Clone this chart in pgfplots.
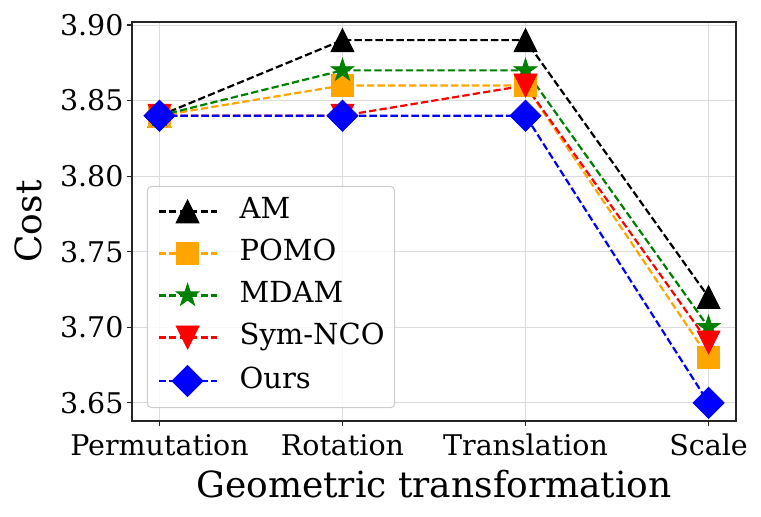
\documentclass[border=0pt]{standalone}
\usepackage{fontspec}
\setmainfont{DejaVu Serif}
\usepackage{pgfplots}
\pgfplotsset{compat=1.18}
\definecolor{morange}{RGB}{255,165,0}
\definecolor{mgreen}{RGB}{0,128,0}
\definecolor{mred}{RGB}{255,0,0}
\definecolor{mblue}{RGB}{0,0,255}
\definecolor{gridc}{RGB}{220,220,220}
\definecolor{legc}{RGB}{204,204,204}
\definecolor{spine}{RGB}{38,38,38}
\pgfdeclareplotmark{fstar}{%
  \pgfpathmoveto{\pgfpointpolar{90}{\pgfplotmarksize}}%
  \pgfpathlineto{\pgfpointpolar{126}{0.382\pgfplotmarksize}}%
  \pgfpathlineto{\pgfpointpolar{162}{\pgfplotmarksize}}%
  \pgfpathlineto{\pgfpointpolar{198}{0.382\pgfplotmarksize}}%
  \pgfpathlineto{\pgfpointpolar{234}{\pgfplotmarksize}}%
  \pgfpathlineto{\pgfpointpolar{270}{0.382\pgfplotmarksize}}%
  \pgfpathlineto{\pgfpointpolar{306}{\pgfplotmarksize}}%
  \pgfpathlineto{\pgfpointpolar{342}{0.382\pgfplotmarksize}}%
  \pgfpathlineto{\pgfpointpolar{18}{\pgfplotmarksize}}%
  \pgfpathlineto{\pgfpointpolar{54}{0.382\pgfplotmarksize}}%
  \pgfpathclose
  \pgfusepathqfillstroke}
\pgfdeclareplotmark{mtri}{%
  \pgfpathmoveto{\pgfqpoint{0pt}{\pgfplotmarksize}}%
  \pgfpathlineto{\pgfqpoint{-\pgfplotmarksize}{-\pgfplotmarksize}}%
  \pgfpathlineto{\pgfqpoint{\pgfplotmarksize}{-\pgfplotmarksize}}%
  \pgfpathclose
  \pgfusepathqfillstroke}
\pgfdeclareplotmark{mtriinv}{%
  \pgfpathmoveto{\pgfqpoint{0pt}{-\pgfplotmarksize}}%
  \pgfpathlineto{\pgfqpoint{-\pgfplotmarksize}{\pgfplotmarksize}}%
  \pgfpathlineto{\pgfqpoint{\pgfplotmarksize}{\pgfplotmarksize}}%
  \pgfpathclose
  \pgfusepathqfillstroke}
\begin{document}
\begin{tikzpicture}
\useasboundingbox (0,0) rectangle (761pt,517pt);
\begin{axis}[
  at={(132pt,96pt)}, anchor=south west,
  width=604pt, height=399pt, scale only axis,
  xmin=-0.15, xmax=3.15, ymin=3.638, ymax=3.902,
  xtick={0,1,2,3},
  xticklabels={Permutation,Rotation,Translation,Scale},
  ytick={3.65,3.70,3.75,3.80,3.85,3.90},
  /pgf/number format/assume math mode=true,
  yticklabel style={/pgf/number format/.cd,fixed,fixed zerofill,precision=2},
  ticklabel style={font=\fontsize{28.5}{33}\selectfont},
  xticklabel style={anchor=base, yshift=-29pt},
  tick pos=left, tick align=outside, major tick length=5pt,
  tick style={line width=1.2pt, spine},
  axis line style={line width=1.2pt, spine},
  grid=major,
  major grid style={line width=1pt, gridc},
  xlabel={Geometric transformation},
  ylabel={Cost},
  label style={font=\fontsize{36}{40}\selectfont},
  xlabel style={at={(axis description cs:0.5,-0.1905)}, anchor=base},
  ylabel style={at={(axis description cs:-0.1495,0.5)}, anchor=base},
  every axis plot/.append style={line width=2.2pt, dash pattern=on 7.3pt off 3.2pt},
  legend image code/.code={\draw[mark repeat=2,mark phase=2,fill opacity=1,draw opacity=1,#1] plot coordinates {(0pt,0pt)(29pt,0pt)(58pt,0pt)};},
  legend cell align=left,
  legend style={at={(0.0248,0.589)}, anchor=north west,
    draw=legc, line width=1pt, rounded corners=4pt, fill=white, fill opacity=0.8, text opacity=1,
    font=\fontsize{29}{34}\selectfont,
    inner xsep=10pt, inner ysep=11pt, row sep=14pt, column sep=22pt,
    nodes={inner xsep=0pt, inner ysep=0pt, text height=21pt, text depth=7pt}},
]
\addplot[black, mark=mtri, mark size=11.5pt, mark options={solid, line width=0.8pt}]
  coordinates {(0,3.84) (1,3.89) (2,3.89) (3,3.72)};
\addlegendentry{AM}
\addplot[morange, mark=square*, mark size=11.2pt, mark options={solid, line width=0.8pt}]
  coordinates {(0,3.84) (1,3.86) (2,3.86) (3,3.68)};
\addlegendentry{POMO}
\addplot[mgreen, mark=fstar, mark size=12pt, mark options={solid, line width=0.8pt}]
  coordinates {(0,3.84) (1,3.87) (2,3.87) (3,3.70)};
\addlegendentry{MDAM}
\addplot[mred, mark=mtriinv, mark size=11.5pt, mark options={solid, line width=0.8pt}]
  coordinates {(0,3.84) (1,3.84) (2,3.86) (3,3.69)};
\addlegendentry{Sym-NCO}
\addplot[mblue, mark=square*, mark size=11pt, mark options={solid, rotate=45, line width=0.8pt}]
  coordinates {(0,3.84) (1,3.84) (2,3.84) (3,3.65)};
\addlegendentry{Ours}
\end{axis}
\end{tikzpicture}
\end{document}
